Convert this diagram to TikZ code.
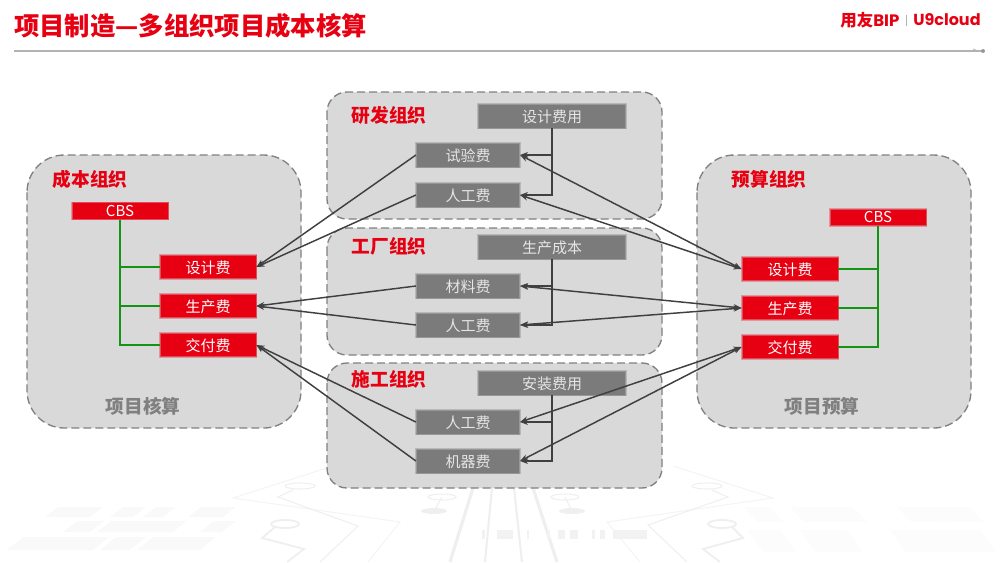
\documentclass[tikz,border=0pt]{standalone}
\usepackage{fontspec}
\setmainfont{Noto Sans CJK SC}
\newfontfamily\logofont{Poppins}
\usetikzlibrary{arrows.meta}
\definecolor{titlered}{HTML}{E60012}
\definecolor{leafgray}{HTML}{7B7B7B}
\definecolor{panelgray}{HTML}{D9D9D9}
\definecolor{treegreen}{HTML}{149414}
\definecolor{linkgray}{HTML}{404040}
\definecolor{circuitgray}{HTML}{EFEFEF}
\tikzset{
  panel/.style={draw=gray,fill=panelgray,line width=1pt,dash pattern=on 6pt off 3pt},
  redbox/.style={fill=titlered,draw=titlered!65!panelgray,line width=0.6pt,preaction={draw=titlered!30!panelgray,line width=1.5pt},text=white,inner sep=0pt,text height=11pt,text depth=1.2pt,font=\fontsize{11.25}{12}\selectfont,minimum width=72pt,minimum height=17.5pt},
  cbsbox/.style={redbox,minimum height=12.5pt,text height=8.2pt,text depth=0pt},
  leafbox/.style={fill=leafgray,draw=leafgray!70!panelgray,line width=0.6pt,preaction={draw=leafgray!35!panelgray,line width=1.6pt},text=white!90!black,inner sep=0pt,text height=11pt,text depth=1.2pt,font=\fontsize{11.25}{12}\selectfont,minimum width=77.5pt,minimum height=18pt},
  headbox/.style={leafbox,minimum width=110.5pt},
  orgtitle/.style={text=titlered,font=\fontsize{14}{15}\selectfont\bfseries,inner sep=0pt},
  acctitle/.style={text=gray,font=\fontsize{14}{15}\selectfont\bfseries,inner sep=0pt},
  tree/.style={draw=treegreen,line width=1.1pt},
  link/.style={draw=linkgray,line width=1.1pt,-{Stealth[length=6pt,width=4.5pt]}},
  biglink/.style={draw=linkgray,line width=1.1pt,{Stealth[length=6pt,width=4.5pt]}-{Stealth[length=6pt,width=4.5pt]}},
  circuit/.style={draw=circuitgray,line width=0.8pt}
}
\begin{document}
\begin{tikzpicture}[x=0.75pt,y=-0.75pt]
  \useasboundingbox (0,0) rectangle (1000,562);
  %background
  \path[circuit,draw=circuitgray!70] (330,467)--(233,498)--(400,522)--(368,562);
  \path[circuit,draw=circuitgray!70] (673,466)--(773,498)--(607,522)--(640,562);
  \path[circuit] (293,490)--(278,497)--(358,526)--(320,562);
  \path[circuit] (712,490)--(728,497)--(648,525)--(687,562);
  \path[circuit] (300,486) ellipse (15 and 3);
  \path[circuit] (707,486) ellipse (15 and 3);
  \path[circuit,line width=1.4pt] (285,524) ellipse (14 and 4);
  \path[circuit,line width=1.4pt] (722,524) ellipse (14 and 4);
  \path[circuit,line width=1.4pt] (275,527)--(262,538)--(304,549)--(287,562);
  \path[circuit,line width=1.4pt] (732,527)--(743,538)--(703,549)--(720,562);
  \path[circuit,line width=2.4pt] (473,488)--(450,562);
  \path[circuit,line width=1.6pt] (492,488)--(485,562);
  \path[circuit,line width=1.6pt] (514,488)--(522,562);
  \path[circuit,line width=2.4pt] (533,488)--(557,562);
  \path[circuit] (442,497) ellipse (14 and 3);
  \path[circuit] (565,497) ellipse (14 and 3);
  \path[circuit] (442,497)--(434,511);
  \path[circuit] (565,497)--(572,511);
  \path[fill=circuitgray] (434,511) ellipse (13 and 3);
  \path[fill=circuitgray] (572,511) ellipse (13 and 3);
  \foreach \a/\b in {45/90,110/133,143/163,188/223}
    \path[fill=black!2.5] (\a,517)--(\a+13,507)--(\b+13,507)--(\b,517)--cycle;
  \foreach \a/\b in {63/90,97/173,200/222}
    \path[fill=black!2.5] (\a,532)--(\a+14,521)--(\b+14,521)--(\b,532)--cycle;
  \foreach \a/\b in {7/93,100/130,137/200}
    \path[fill=black!2.5] (\a,550)--(\a+16,537)--(\b+16,537)--(\b,550)--cycle;
  \foreach \a/\b in {743/770,790/820,820/853,897/937,927/970}
    \path[fill=black!1.2] (\a,507)--(\a+14,522)--(\b+14,522)--(\b,507)--cycle;
  \foreach \a/\b in {747/780,800/847,890/943,920/980}
    \path[fill=black!1.2] (\a,530)--(\a+16,552)--(\b+16,552)--(\b,530)--cycle;
  \foreach \a/\b in {482/485,497/513,527/529,547/550,558/565,570/578,592/595,600/605,613/647}
    \path[fill=black!5] (\a,530) rectangle (\b,539);
  %title
  \node[text=titlered,font=\fontsize{19}{20}\selectfont\bfseries,inner sep=0pt,anchor=west] (maintitle) at (14,26) {项目制造—多组织项目成本核算};
  \node[text=titlered,font=\fontsize{12.4}{13}\selectfont\bfseries,inner sep=0pt,anchor=west] (logoa) at (840,20) {用友\logofont BIP};
  \node[text=titlered,font=\fontsize{12}{13}\selectfont\bfseries\logofont,inner sep=0pt,anchor=west] (logob) at (913,20) {U9cloud};
  \path[draw=black!30,line width=0.8pt] (906.5,15)--(906.5,26);
  \path[draw=black!30,line width=0.8pt] (14,51)--(983,51);
  \path[draw=black!30,line width=0.6pt] (973,49)--(978,51);
  \path[fill=black!40] (983,51) circle (2);
  %panels
  \path[panel,rounded corners=28pt] (27,155) rectangle (301,428);
  \path[panel,rounded corners=28pt] (697,155) rectangle (971,428);
  \path[panel,rounded corners=15pt] (327,92) rectangle (662,219);
  \path[panel,rounded corners=15pt] (327,228) rectangle (662,355);
  \path[panel,rounded corners=15pt] (327,363) rectangle (662,488);
  \node[orgtitle] (orgcost) at (90,179) {成本组织};
  \node[orgtitle] (orgbudget) at (769,179) {预算组织};
  \node[orgtitle] (orgrd) at (389,115) {研发组织};
  \node[orgtitle] (orgplant) at (389,246) {工厂组织};
  \node[orgtitle] (orgbuild) at (389,379) {施工组织};
  \node[acctitle] (acccost) at (143,406) {项目核算};
  \node[acctitle] (accbudget) at (822,406) {项目预算};
  %cost side
  \node[cbsbox] (cbsL) at (120,211) {CBS};
  \node[redbox] (designL) at (208,267) {设计费};
  \node[redbox] (prodL) at (208,306) {生产费};
  \node[redbox] (delivL) at (208,345) {交付费};
  %budget side
  \node[cbsbox] (cbsR) at (878,217.5) {CBS};
  \node[redbox] (designR) at (790,269) {设计费};
  \node[redbox] (prodR) at (790,308) {生产费};
  \node[redbox] (delivR) at (790,347) {交付费};
  %middle
  \node[headbox] (headrd) at (552,116) {设计费用};
  \node[leafbox] (test) at (468,155) {试验费};
  \node[leafbox] (labora) at (468,195) {人工费};
  \node[headbox] (headplant) at (552,247) {生产成本};
  \node[leafbox] (material) at (468,286) {材料费};
  \node[leafbox] (laborb) at (468,325) {人工费};
  \node[headbox] (headbuild) at (552,383) {安装费用};
  \node[leafbox] (laborc) at (468,422) {人工费};
  \node[leafbox] (machine) at (468,461) {机器费};
  %trees
  \foreach \s/\t in {cbsL/designL,cbsL/prodL,cbsL/delivL}
    \path[tree] (\s.south) |- (\t.west);
  \foreach \s/\t in {cbsR/designR,cbsR/prodR,cbsR/delivR}
    \path[tree] (\s.south) |- (\t.east);
  %links
  \foreach \s/\t in {headrd/test,headrd/labora,headplant/material,headplant/laborb,headbuild/laborc,headbuild/machine}
    \path[link] (\s.south) |- (\t.east);
  \foreach \s/\t in {test/designL,labora/designL,material/prodL,laborb/prodL,laborc/delivL,machine/delivL}
    \path[link] (\s.west) -- (\t.east);
  \foreach \s/\t in {test/designR,labora/designR,material/prodR,laborb/prodR,laborc/delivR,machine/delivR}
    \path[biglink] (\s.east) -- (\t.west);
\end{tikzpicture}
\end{document}
